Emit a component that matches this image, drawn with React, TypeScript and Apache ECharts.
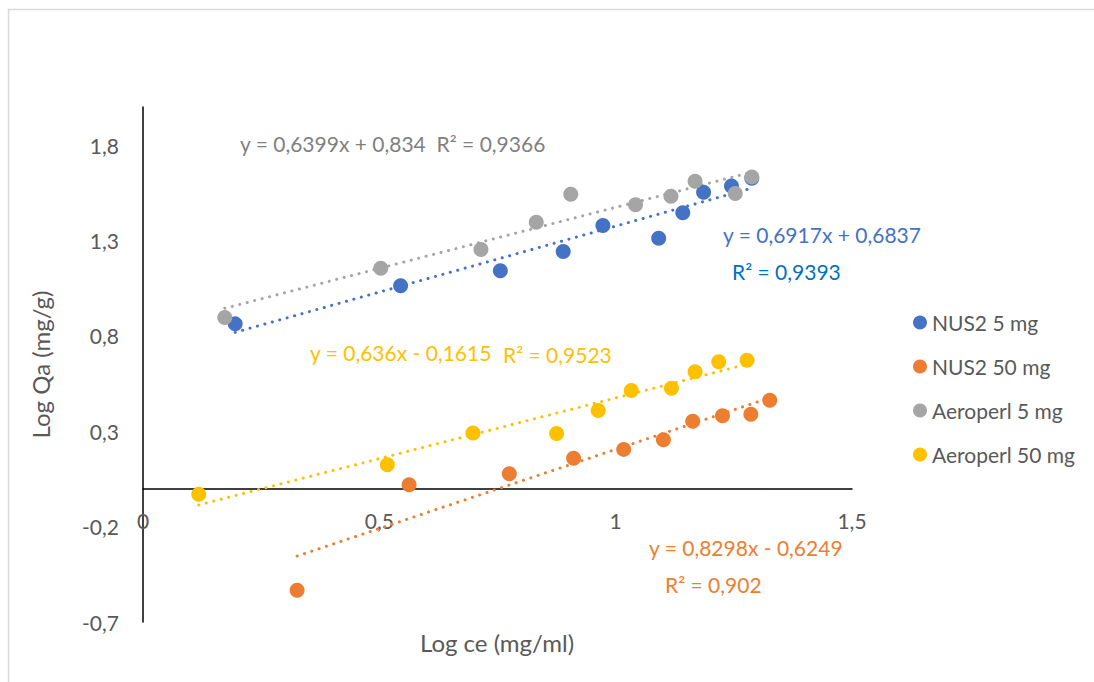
import React, { useEffect, useRef } from "react";
import * as echarts from "echarts";

// ---- Data ----
const seriesNames = ["NUS2 5 mg", "NUS2 50 mg", "Aeroperl 5 mg", "Aeroperl 50 mg"];
const seriesColors = ["#4472C4", "#ED7D31", "#A5A5A5", "#FFC000"];

const nus2_5_x = [0.195, 0.545, 0.756, 0.889, 0.973, 1.091, 1.142, 1.186, 1.245, 1.288];
const nus2_5_y = [0.863, 1.063, 1.142, 1.242, 1.379, 1.312, 1.446, 1.553, 1.586, 1.626];

const nus2_50_x = [0.326, 0.563, 0.775, 0.911, 1.017, 1.101, 1.163, 1.226, 1.286, 1.326];
const nus2_50_y = [-0.533, 0.019, 0.077, 0.159, 0.205, 0.256, 0.353, 0.381, 0.389, 0.463];

const aero_5_x = [0.173, 0.503, 0.715, 0.832, 0.905, 1.042, 1.117, 1.168, 1.253, 1.288];
const aero_5_y = [0.896, 1.154, 1.253, 1.396, 1.542, 1.488, 1.532, 1.611, 1.546, 1.633];

const aero_50_x = [0.118, 0.517, 0.698, 0.875, 0.963, 1.033, 1.118, 1.168, 1.218, 1.278];
const aero_50_y = [-0.03, 0.125, 0.291, 0.288, 0.409, 0.514, 0.525, 0.612, 0.665, 0.672];

// Linear trendline coefficients (as printed on the chart)
const trendSlopes = [0.6917, 0.8298, 0.6399, 0.636];
const trendIntercepts = [0.6837, -0.6249, 0.834, -0.1615];

// Tick settings
const xMin = 0, xMax = 1.5, xInterval = 0.5;
const yMin = -0.7, yMax = 2.0, yInterval = 0.5;

const xTitle = "Log ce (mg/ml)";
const yTitle = "Log Qa (mg/g)";

const annotations = [
  { text: "y = 0,6399x + 0,834  R² = 0,9366", x: 240, y: 143, color: "#7F7F7F" },
  { text: "y = 0,6917x + 0,6837", x: 723, y: 234, color: "#4472C4" },
  { text: "R² = 0,9393", x: 732, y: 271, color: "#0070C0" },
  { text: "y = 0,636x - 0,1615", x: 310, y: 352, color: "#FFC000" },
  { text: "R² = 0,9523", x: 503, y: 354, color: "#FFC000" },
  { text: "y = 0,8298x - 0,6249", x: 649, y: 547, color: "#ED7D31" },
  { text: "R² = 0,902", x: 665, y: 584, color: "#ED7D31" },
];

const FONT = "Lato, 'Open Sans', sans-serif";
const TEXT_GRAY = "#595959";

function zip(xs: number[], ys: number[]) {
  return xs.map((x, i) => [x, ys[i]]);
}

function fmt(v: number) {
  const r = Math.round(v * 10) / 10;
  return String(r).replace(".", ",");
}

export default function App() {
  const ref = useRef<HTMLDivElement>(null);

  useEffect(() => {
    if (!ref.current) return;
    const chart = echarts.init(ref.current, undefined, { renderer: "svg" });

    const xs = [nus2_5_x, nus2_50_x, aero_5_x, aero_50_x];
    const ys = [nus2_5_y, nus2_50_y, aero_5_y, aero_50_y];

    const scatterSeries = seriesNames.map((name, i) => ({
      name,
      type: "scatter",
      data: zip(xs[i], ys[i]),
      symbol: "circle",
      symbolSize: 15,
      itemStyle: { color: seriesColors[i], opacity: 1 },
      z: 3,
    }));

    const trendSeries = seriesNames.map((name, i) => {
      const x0 = Math.min(...xs[i]);
      const x1 = Math.max(...xs[i]);
      return {
        name: name + " trend",
        type: "line",
        data: [
          [x0, trendSlopes[i] * x0 + trendIntercepts[i]],
          [x1, trendSlopes[i] * x1 + trendIntercepts[i]],
        ],
        symbol: "none",
        silent: true,
        lineStyle: { color: seriesColors[i], width: 3, type: [0.1, 7.6], cap: "round" },
        z: 2,
      };
    });

    const order = [2, 0, 3, 1];

    chart.setOption({
      animation: false,
      backgroundColor: "#FFFFFF",
      grid: {
        left: 143,
        top: 107,
        width: 709,
        height: 515,
        containLabel: false,
        outerBoundsMode: "none",
      },
      legend: {
        data: seriesNames,
        orient: "vertical",
        left: 908,
        top: 307,
        icon: "circle",
        itemWidth: 14,
        itemHeight: 14,
        itemGap: 23,
        textStyle: { color: TEXT_GRAY, fontSize: 21, fontFamily: FONT },
      },
      xAxis: {
        type: "value",
        min: xMin,
        max: xMax,
        interval: xInterval,
        splitLine: { show: false },
        axisTick: { show: false },
        axisLine: { onZero: true, lineStyle: { color: "#000000", width: 1.5 } },
        axisLabel: {
          color: TEXT_GRAY,
          fontSize: 21,
          fontFamily: FONT,
          margin: -112,
          formatter: (v: number) => fmt(v),
        },
      },
      yAxis: {
        type: "value",
        min: yMin,
        max: yMax,
        interval: yInterval,
        splitLine: { show: false },
        axisTick: { show: false },
        axisLine: { onZero: false, lineStyle: { color: "#000000", width: 1.5 } },
        axisLabel: {
          color: TEXT_GRAY,
          fontSize: 21,
          fontFamily: FONT,
          margin: 24,
          showMaxLabel: false,
          formatter: (v: number) => fmt(v),
        },
        name: yTitle,
        nameLocation: "middle",
        nameGap: 91,
        nameRotate: 90,
        nameTextStyle: { color: TEXT_GRAY, fontSize: 24, fontFamily: FONT },
      },
      series: [...order.map((i) => trendSeries[i]), ...scatterSeries],
      graphic: [
        {
          type: "polyline",
          shape: { points: [[8.5, 682], [8.5, 9.5], [1094, 9.5]] },
          style: { stroke: "#D9D9D9", lineWidth: 1.5, fill: null },
          silent: true,
        },
        {
          type: "text",
          x: 497,
          y: 642,
          silent: true,
          style: {
            text: xTitle,
            fill: TEXT_GRAY,
            fontSize: 24,
            fontFamily: FONT,
            align: "center",
            verticalAlign: "middle",
          },
        },
        ...annotations.map((a) => ({
          type: "text",
          x: a.x,
          y: a.y,
          silent: true,
          style: {
            text: a.text,
            fill: a.color,
            fontSize: 21,
            fontFamily: FONT,
            verticalAlign: "middle",
            align: "left",
          },
        })),
      ],
    });

    return () => chart.dispose();
  }, []);

  return (
    <div
      ref={ref}
      style={{ position: "absolute", left: 0, top: 0, width: 1094, height: 682, background: "#fff" }}
    />
  );
}
